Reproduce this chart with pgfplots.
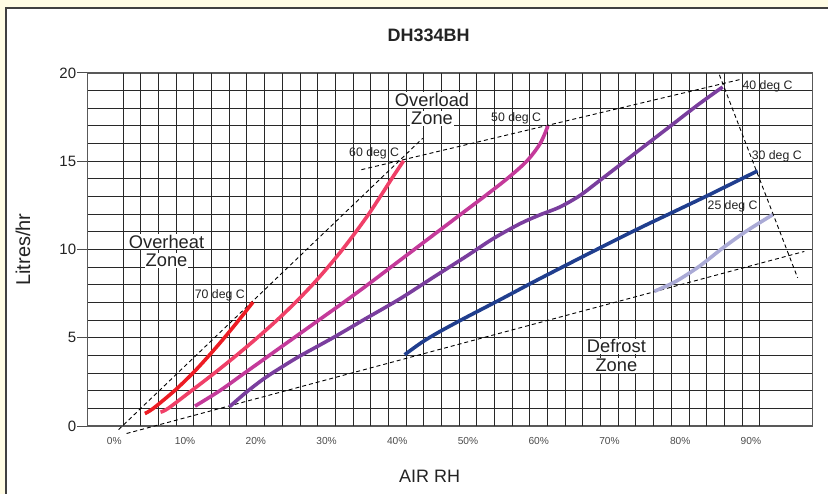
\documentclass[border=0pt]{standalone}
\usepackage{pgfplots}
\pgfplotsset{compat=1.18}
\usepackage{fontspec}
\setmainfont{Liberation Sans}
\definecolor{bgyellow}{RGB}{255,252,228}
\definecolor{c70}{RGB}{237,28,36}
\definecolor{c60}{RGB}{240,64,104}
\definecolor{c50}{RGB}{196,58,154}
\definecolor{c40}{RGB}{122,62,158}
\definecolor{c30}{RGB}{32,62,142}
\definecolor{c25}{RGB}{170,170,214}
\definecolor{gridc}{RGB}{40,40,40}
\definecolor{txt}{RGB}{35,35,35}
\begin{document}
\begin{tikzpicture}[x=1bp,y=1bp]
\fill[bgyellow] (0,0) rectangle (829,494);
\fill[white] (6,0) rectangle (829,486);
\draw[black!75, line width=1.6bp] (6,0) -- (6,486) -- (829,486);
\begin{axis}[
  at={(87.9bp,67.5bp)}, anchor=south west,
  width=725.7bp, height=353.5bp, scale only axis,
  xmin=-3.75, xmax=98.75, ymin=0, ymax=20,
  clip=false,
  axis line style={black!65, line width=1.3bp},
  xtick={0,10,...,90},
  xticklabels={0\%,10\%,20\%,30\%,40\%,50\%,60\%,70\%,80\%,90\%},
  xtick style={draw=none},
  extra x ticks={1.25,3.75,...,91.25},
  extra x tick labels={},
  extra x tick style={grid=major, tick style={draw=none}},
  ytick={0,5,10,15,20},
  minor ytick={1,2,...,19},
  ymajorgrids, yminorgrids,
  major grid style={gridc, line width=1bp},
  minor grid style={gridc, line width=1bp},
  ytick pos=left, tick align=outside,
  major tick length=10.5bp, minor tick length=0pt,
  ytick style={black!70, line width=1bp},
  /pgf/number format/assume math mode=true,
  yticklabel style={font=\fontsize{15bp}{18bp}\selectfont, text=txt, inner sep=1bp},
  xticklabel style={font=\fontsize{10.2bp}{12bp}\selectfont, text=black!70, yshift=3bp},
  title={DH334BH},
  title style={at={(axis description cs:0.470,1.1075)}, anchor=center, yshift=-6pt, font=\bfseries\fontsize{18bp}{21bp}\selectfont, text=txt},
  xlabel={AIR RH},
  xlabel style={at={(axis description cs:0.4714,-0.1344)}, anchor=center, yshift=-3bp, font=\fontsize{18bp}{21bp}\selectfont, text=txt},
  ylabel={Litres/hr},
  ylabel style={at={(axis description cs:-0.0893,0.5)}, anchor=center, font=\fontsize{20bp}{24bp}\selectfont, text=txt},
]
% dashed zone boundaries
\addplot[black, line width=0.9bp, dash pattern=on 4bp off 3bp] coordinates {(0.6,-0.2) (43.6,16.3)};
\addplot[black, line width=0.9bp, dash pattern=on 4bp off 3bp] coordinates {(1.73,-0.42) (97.55,9.89)};
\addplot[black, line width=0.9bp, dash pattern=on 4bp off 3bp] coordinates {(34.93,14.52) (88.6,19.64)};
\addplot[black, line width=0.9bp, dash pattern=on 4bp off 3bp] coordinates {(85.54,19.89) (96.6,8.4)};
% 70 deg C
\addplot[c70, line width=3.6bp, smooth, tension=0.5] coordinates {(4.32,0.71) (5.5,1) (8.5,2) (11.1,3) (13.4,4) (15.55,5) (17.6,6) (19.6,7.02)};
% 60 deg C
\addplot[c60, line width=3.6bp, smooth, tension=0.5] coordinates {(6.53,0.79) (7.6,1) (10.9,2) (14.15,3) (17.25,4) (20.2,5) (23.0,6) (25.6,7) (28.0,8) (30.2,9) (32.25,10) (34.15,11) (35.95,12) (37.6,13) (39.2,14) (40.9,15.03)};
% 50 deg C
\addplot[c50, line width=3.6bp, smooth, tension=0.5] coordinates {(11.4,1.13) (14.9,2) (18.4,3) (21.9,4) (25.4,5) (28.9,6) (32.4,7) (35.8,8) (39.1,9) (42.4,10) (45.7,11) (49.0,12) (52.3,13) (55.5,14) (58.3,15) (60.2,16) (61.3,17.0)};
% 40 deg C
\addplot[c40, line width=3.6bp, smooth, tension=0.5] coordinates {(16.3,1.1) (18.6,1.9) (21.2,2.7) (23.7,3.35) (26.2,3.96) (30.9,5.0) (35.6,6.1) (40.35,7.2) (45.0,8.4) (49.7,9.6) (53.5,10.6) (57.3,11.45) (60.1,11.95) (62.95,12.4) (65.8,13.05) (68.6,13.9) (73.3,15.35) (78.0,16.8) (82.7,18.25) (86.0,19.2)};
% 30 deg C
\addplot[c30, line width=3.6bp, smooth, tension=0.5] coordinates {(41.04,4.04) (43.5,4.75) (46.0,5.35) (49.7,6.15) (54.5,7.15) (59.2,8.15) (63.9,9.12) (68.6,10.08) (74.2,11.2) (78.9,12.1) (83.7,13.02) (88.4,13.95) (90.94,14.45)};
% 25 deg C
\addplot[c25, line width=3.6bp, smooth, tension=0.5] coordinates {(76.34,7.63) (79.41,8.2) (82.71,9.05) (86.0,10.08) (89.32,11.03) (93.07,11.97)};
% zone labels
\node[font=\fontsize{18.3bp}{22bp}\selectfont, text=txt, fill=white, inner sep=1bp, anchor=base] at (axis cs:7.38,10.08) {Overheat};
\node[font=\fontsize{18.3bp}{22bp}\selectfont, text=txt, fill=white, inner sep=1bp, anchor=base] at (axis cs:7.38,9.04) {Zone};
\node[font=\fontsize{18.3bp}{22bp}\selectfont, text=txt, fill=white, inner sep=1bp, anchor=base] at (axis cs:44.92,18.10) {Overload};
\node[font=\fontsize{18.3bp}{22bp}\selectfont, text=txt, fill=white, inner sep=1bp, anchor=base] at (axis cs:44.92,17.06) {Zone};
\node[font=\fontsize{18.3bp}{22bp}\selectfont, text=txt, fill=white, inner sep=1bp, anchor=base] at (axis cs:70.98,4.14) {Defrost};
\node[font=\fontsize{18.3bp}{22bp}\selectfont, text=txt, fill=white, inner sep=1bp, anchor=base] at (axis cs:70.98,3.10) {Zone};
% temperature labels
\node[font=\fontsize{12.3bp}{14bp}\selectfont, text=txt, inner sep=0pt, anchor=base] at (axis cs:14.91,7.22) {70 deg C};
\node[font=\fontsize{12.3bp}{14bp}\selectfont, text=txt, inner sep=0pt, anchor=base] at (axis cs:36.73,15.27) {60 deg C};
\node[font=\fontsize{12.3bp}{14bp}\selectfont, text=txt, inner sep=0pt, anchor=base] at (axis cs:56.81,17.25) {50 deg C};
\node[font=\fontsize{12.3bp}{14bp}\selectfont, text=txt, inner sep=0pt, anchor=base] at (axis cs:92.35,19.08) {40 deg C};
\node[font=\fontsize{12.3bp}{14bp}\selectfont, text=txt, inner sep=0pt, anchor=base] at (axis cs:93.65,15.12) {30 deg C};
\node[font=\fontsize{12.3bp}{14bp}\selectfont, text=txt, inner sep=0pt, anchor=base] at (axis cs:87.41,12.29) {25 deg C};
\end{axis}
\end{tikzpicture}
\end{document}
